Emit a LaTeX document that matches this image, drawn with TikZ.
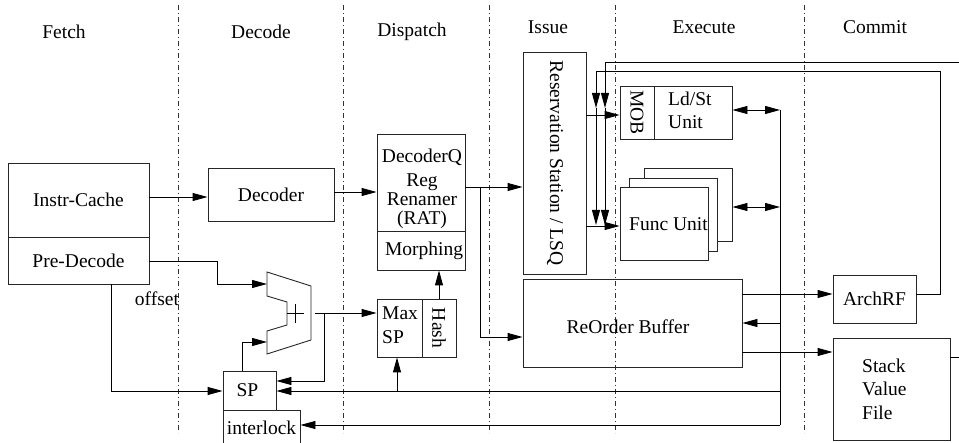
\documentclass[tikz,border=0pt]{standalone}
\usepackage{fontspec}
\setmainfont{Liberation Serif}
\usetikzlibrary{arrows.meta}
\begin{document}
\begin{tikzpicture}[x=1pt,y=-1pt,
  every node/.style={font=\fontsize{19.5}{22}\selectfont, inner sep=0pt},
  box/.style={draw=black!85, line width=0.9pt, rectangle},
  lbl/.style={},
  ln/.style={draw=black, line width=0.9pt},
  arr/.style={ln, -{Triangle[length=15pt,width=8pt]}},
  darr/.style={ln, {Triangle[length=15pt,width=8pt]}-{Triangle[length=15pt,width=8pt]}},
  stage/.style={draw=black!80, line width=0.6pt, dash pattern=on 5pt off 3pt on 1pt off 3pt}]
\useasboundingbox (0,0) rectangle (959,443);
% stage separators
\foreach \xx in {178,343,489,615,804} \draw[stage] (\xx,5) -- (\xx,433);
% stage labels
\node[lbl] (lfetch) at (64,32) {Fetch};
\node[lbl] (ldecode) at (261,32) {Decode};
\node[lbl] (ldispatch) at (412,32) {Dispatch};
\node[lbl] (lissue) at (548,27) {Issue};
\node[lbl] (lexecute) at (704,27) {Execute};
\node[lbl] (lcommit) at (875,27) {Commit};
% boxes
\node[box, minimum width=141pt, minimum height=74pt] (icache) at (78.5,200) {Instr-Cache};
\node[box, minimum width=141pt, minimum height=47pt] (predec) at (78.5,260.5) {Pre-Decode};
\node[box, minimum width=126pt, minimum height=53pt] (decoder) at (271,194.5) {Decoder};
\node[box, minimum width=88pt, minimum height=97pt] (dq) at (421,182.5) {};
\node (tdq) at (422,157) {DecoderQ};
\node[align=center, font=\fontsize{19.5}{19}\selectfont] (tren) at (422,201) {Reg\\Renamer\\(RAT)};
\node[box, minimum width=88pt, minimum height=39pt] (morph) at (421,250.5) {\hspace*{6pt}Morphing};
\node[box, minimum width=45pt, minimum height=58pt] (maxsp) at (399.5,328) {};
\node[align=left, anchor=west, font=\fontsize{19.5}{24}\selectfont] (tmax) at (382,325) {Max\\SP};
\node[box, minimum width=34pt, minimum height=58pt] (hash) at (439,328) {};
\node[rotate=-90] (thash) at (439,328) {Hash};
\node[box, minimum width=53pt, minimum height=39pt] (sp) at (249.5,390.5) {\hspace*{-4pt}SP};
\node[box, minimum width=77pt, minimum height=37pt] (interlock) at (261.5,428.5) {};
\node (tint) at (261.5,428) {interlock};
\node[box, minimum width=63pt, minimum height=222pt] (rs) at (554.5,163) {};
\node[rotate=-90] (trs) at (555,163) {Reservation Station / LSQ};
\node[box, minimum width=34pt, minimum height=53pt] (mob) at (637,112.5) {};
\node[rotate=-90] (tmob) at (637,112.5) {MOB};
\node[box, minimum width=78pt, minimum height=53pt] (ldst) at (693,112.5) {};
\node[align=left, anchor=west, font=\fontsize{19.5}{23}\selectfont] (tldst) at (668,110.5) {Ld/St\\Unit};
\node[box, fill=white, minimum width=88pt, minimum height=73pt] (fub) at (688,204.5) {};
\node[box, fill=white, minimum width=88pt, minimum height=73pt] (fum) at (673,214.5) {};
\node[box, fill=white, minimum width=88pt, minimum height=73pt] (fuf) at (664,223.5) {};
\node (tfu) at (668.5,224) {Func Unit};
\node[box, minimum width=219pt, minimum height=88pt] (rob) at (632.5,323) {};
\node (trob) at (628,327) {ReOrder Buffer};
\node[box, minimum width=83pt, minimum height=48pt] (archrf) at (874.5,299) {ArchRF};
\node[box, minimum width=117pt, minimum height=102pt] (svf) at (891.5,389) {};
\node[align=left, anchor=west, font=\fontsize{19.5}{23.5}\selectfont] (tsvf) at (862,389) {Stack\\Value\\File};
\node (toffset) at (157,299) {offset};
% adder
\draw[box] (267,272) -- (311,286) -- (311,340) -- (267,354) -- (267,331) -- (287,325) -- (287,302) -- (267,296) -- cycle;
\draw[ln] (287,313) -- (304,313);
\draw[ln] (295,304) -- (295,323);
\coordinate (addin1) at (267,284);
\coordinate (addin2) at (267,342);
\coordinate (addout) at (315,313);
\coordinate (br1) at (480,187);
\coordinate (bustop) at (780,110);
\coordinate (busbot) at (780,425);
% connectors
\draw[arr] (icache.east |- 0,197) -- (decoder.west |- 0,197);
\draw[arr] (decoder.east |- 0,192) -- (dq.west |- 0,192);
\draw[arr] (dq.east |- 0,187) -- (rs.west |- 0,187);
\draw[arr] (br1) -- (480,337) -- (rob.west |- 0,337);
\draw[arr] (predec.east |- 0,261) -- (217,261) -- (217,284) -- (addin1);
\draw[arr] (sp.north -| 242,0) -- (242,342) -- (addin2);
\draw[arr] (addout) -- (maxsp.west |- addout);
\draw[arr] (324,313) -- (324,381) -- (sp.east |- 0,381);
\draw[arr] (predec.south -| 111,0) -- (111,391) -- (sp.west |- 0,391);
\draw[ln] (bustop) -- (busbot);
\draw[arr] (780,391) -- (sp.east |- 0,391);
\draw[arr] (397,391) -- (maxsp.south -| 397,0);
\draw[arr] (busbot) -- (interlock.east |- busbot);
\draw[arr] (780,323) -- (rob.east |- 0,323);
\draw[darr] (ldst.east |- bustop) -- (bustop);
\draw[darr] (fub.east |- 0,207) -- (780,207);
\draw[arr] (hash.north) -- (morph.south -| hash.north);
\draw[arr] (rob.east |- 0,294) -- (archrf.west |- 0,294);
\draw[arr] (rob.east |- 0,352) -- (svf.west |- 0,352);
\draw[arr] (archrf.east |- 0,294) -- (940,294) -- (940,71) -- (596,71) -- (596,108);
\draw[arr] (596,108) -- (596,225);
\draw[ln] (svf.east |- 0,357) -- (962,357);
\draw[arr] (962,62) -- (605,62) -- (605,108);
\draw[arr] (605,108) -- (605,225);
\draw[arr] (rs.east |- 0,115) -- (mob.west |- 0,115);
\draw[arr] (rs.east |- 0,226) -- (fuf.west |- 0,226);
\end{tikzpicture}
\end{document}
